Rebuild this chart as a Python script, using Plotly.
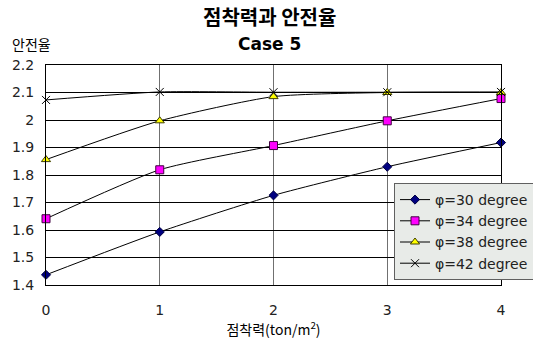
import plotly.graph_objects as go

x_vals = [0, 1, 2, 3, 4]
phi30 = [1.437, 1.593, 1.726, 1.830, 1.918]
phi34 = [1.641, 1.819, 1.907, 1.997, 2.078]
phi38 = [1.856, 1.997, 2.085, 2.100, 2.100]
phi42 = [2.073, 2.102, 2.101, 2.101, 2.102]
names = ["φ=30 degree", "φ=34 degree", "φ=38 degree", "φ=42 degree"]
y_ticks = [1.4, 1.5, 1.6, 1.7, 1.8, 1.9, 2.0, 2.1, 2.2]
y_tick_text = ["1.4", "1.5", "1.6", "1.7", "1.8", "1.9", "2", "2.1", "2.2"]

styles = [
    dict(symbol="diamond", color="#000080", size=7, line=dict(color="#000040", width=1)),
    dict(symbol="square", color="#ff00ff", size=8, line=dict(color="#400040", width=1)),
    dict(symbol="triangle-up", color="#ffff00", size=8, line=dict(color="#404000", width=1)),
    dict(symbol="x-thin", color="#000000", size=8, line=dict(color="#000000", width=1)),
]

fig = go.Figure()
for name, ys, st in zip(names, [phi30, phi34, phi38, phi42], styles):
    fig.add_trace(go.Scatter(
        x=x_vals, y=ys, name=name, mode="lines+markers",
        line=dict(color="black", width=1, shape="spline", smoothing=0.6),
        marker=st, cliponaxis=False,
    ))

L, R, T, B = 46, 32, 65, 55
W, H = 533, 340
pw = W - L - R
ph = H - T - B


def px(xp):
    return (xp - L) / pw


def py(yp):
    return (H - B - yp) / ph


font_kr = "Noto Sans CJK KR, DejaVu Sans, sans-serif"
lat = "DejaVu Sans, Liberation Sans, sans-serif"
fig.update_layout(
    width=W, height=H,
    margin=dict(l=L, r=R, t=T, b=B, autoexpand=False),
    paper_bgcolor="white", plot_bgcolor="white",
    font=dict(family=font_kr, size=13, color="black"),
    showlegend=True,
    legend=dict(
        x=px(394), y=py(183), xref="paper", yref="paper", xanchor="left", yanchor="top",
        bgcolor="#e8ebe8", bordercolor="#606060", borderwidth=1,
        font=dict(family=lat, size=14, color="#222"),
        tracegroupgap=0, itemwidth=30,
    ),
    xaxis=dict(
        range=[0, 4], tickvals=x_vals, ticks="", showgrid=True, gridcolor="#707070", gridwidth=1,
        showline=True, linecolor="black", linewidth=1, mirror=True, zeroline=False,
        tickfont=dict(family=lat, size=14, color="#222"),
        ticklabelstandoff=12,
        title=dict(text="점착력(ton/m<sup>2</sup>)", font=dict(family=font_kr, size=14), standoff=4),
    ),
    yaxis=dict(
        range=[1.4, 2.2], tickvals=y_ticks, ticktext=y_tick_text, ticks="",
        showgrid=True, gridcolor="#000000", gridwidth=1,
        showline=True, linecolor="black", linewidth=1, mirror=True, zeroline=False,
        tickfont=dict(family=lat, size=14, color="#222"),
        ticklabelstandoff=8,
    ),
    annotations=[
        dict(text="<b>점착력과 안전율</b>", x=px(269), y=py(17), xref="paper", yref="paper",
             xanchor="center", yanchor="middle", showarrow=False,
             font=dict(family=font_kr, size=20)),
        dict(text="<b>Case 5</b>", x=px(269), y=py(44), xref="paper", yref="paper",
             xanchor="center", yanchor="middle", showarrow=False,
             font=dict(family=lat, size=17)),
        dict(text="안전율", x=px(31), y=py(44), xref="paper", yref="paper",
             xanchor="center", yanchor="middle", showarrow=False,
             font=dict(family=font_kr, size=14)),
    ],
)

fig.write_html("out.html")
